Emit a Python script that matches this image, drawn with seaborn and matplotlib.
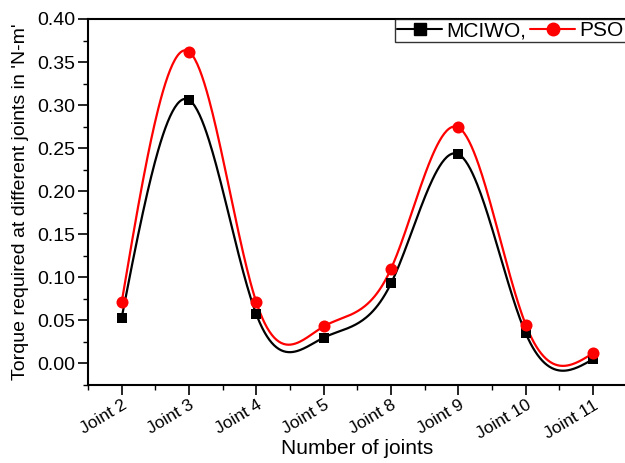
import numpy as np
import pandas as pd
import matplotlib
matplotlib.use("Agg")
import matplotlib.pyplot as plt
import matplotlib.transforms as mtransforms
from matplotlib.lines import Line2D
from matplotlib.ticker import MultipleLocator
import seaborn as sns

joints = ["Joint 2", "Joint 3", "Joint 4", "Joint 5", "Joint 8", "Joint 9", "Joint 10", "Joint 11"]
mciwo = [0.053, 0.306, 0.057, 0.030, 0.093, 0.243, 0.035, 0.005]
pso = [0.071, 0.362, 0.071, 0.043, 0.110, 0.274, 0.045, 0.012]
y_ticks = [0.00, 0.05, 0.10, 0.15, 0.20, 0.25, 0.30, 0.35, 0.40]


def natural_spline(y, n=400):
    y = np.asarray(y, float)
    m = len(y)
    A = np.zeros((m, m))
    b = np.zeros(m)
    A[0, 0] = A[-1, -1] = 1
    for i in range(1, m - 1):
        A[i, i - 1], A[i, i], A[i, i + 1] = 1, 4, 1
        b[i] = 6 * (y[i + 1] - 2 * y[i] + y[i - 1])
    M = np.linalg.solve(A, b)
    xs = np.linspace(0, m - 1, n)
    idx = np.clip(np.floor(xs).astype(int), 0, m - 2)
    t = xs - idx
    ys = ((1 - t) * y[idx] + t * y[idx + 1]
          + ((1 - t) ** 3 - (1 - t)) * M[idx] / 6 + (t ** 3 - t) * M[idx + 1] / 6)
    return xs, ys


sns.set_theme(style="ticks")
plt.rcParams["font.family"] = ["Liberation Sans", "DejaVu Sans"]
plt.rcParams.update({"text.color": "black", "axes.labelcolor": "black",
                     "xtick.color": "black", "ytick.color": "black"})

fig = plt.figure(figsize=(6.25, 4.63), dpi=100)
ax = fig.add_axes([0.1408, 0.1685, 0.862, 0.7905])

pos = np.arange(len(joints))
for vals, color, marker, ms in [(mciwo, "black", "s", 60), (pso, "red", "o", 75)]:
    xs, ys = natural_spline(vals)
    sns.lineplot(x=xs, y=ys, ax=ax, color=color, lw=1.6, sort=False, zorder=2)
    sns.scatterplot(x=pos, y=vals, ax=ax, color=color, marker=marker, s=ms,
                    edgecolor=color, linewidth=0, zorder=3)

ax.set_xlim(-0.5, len(joints) - 0.5)
ax.set_ylim(-0.025, 0.40)
ax.set_xticks(pos)
ax.set_xticklabels(joints, rotation=31, ha="right", rotation_mode="anchor", fontsize=12.5)
offset = mtransforms.ScaledTranslation(0.24, 0, fig.dpi_scale_trans)
for lbl in ax.get_xticklabels():
    lbl.set_transform(lbl.get_transform() + offset)
ax.set_yticks(y_ticks)
ax.set_yticklabels([f"{v:.2f}" for v in y_ticks], fontsize=14)
ax.xaxis.set_minor_locator(MultipleLocator(1, offset=0.5))
ax.yaxis.set_minor_locator(MultipleLocator(0.025))
ax.tick_params(which="major", direction="out", length=7, width=1.2, color="black")
ax.tick_params(which="minor", direction="out", length=3.5, width=1.0, color="black")
ax.tick_params(axis="x", which="major", pad=2)
ax.tick_params(axis="y", which="major", pad=2)
for s in ax.spines.values():
    s.set_color("black")
    s.set_linewidth(1.5)

ax.set_xlabel("Number of joints", fontsize=15)
ax.xaxis.set_label_coords(0.5, -0.147)
ax.set_ylabel("Torque required at different joints in 'N-m'", fontsize=14, labelpad=6)

handles = [Line2D([], [], color="black", marker="s", ms=8, lw=1.5),
           Line2D([], [], color="red", marker="o", ms=9, lw=1.5)]
leg = ax.legend(handles, ["MCIWO,", "PSO"], ncol=2, loc="upper right",
                bbox_to_anchor=(0.9985, 1.0), bbox_transform=ax.transAxes,
                frameon=True, fancybox=False, fontsize=15, handlelength=2.2,
                handletextpad=0.2, columnspacing=0.15, borderpad=0.1,
                borderaxespad=0.0)
leg.get_frame().set_edgecolor("black")
leg.get_frame().set_linewidth(1.0)

fig.savefig("out.png", dpi=100)
